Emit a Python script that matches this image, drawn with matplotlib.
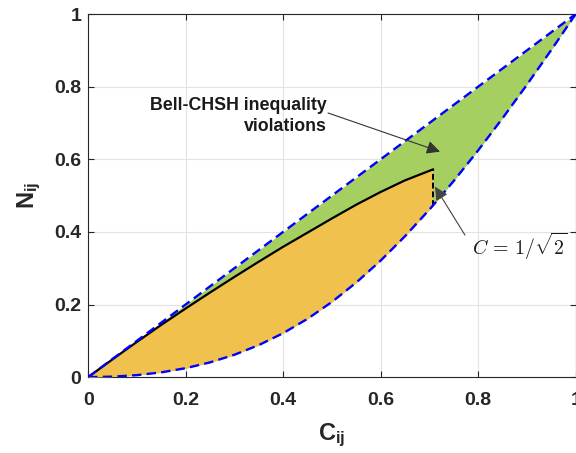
import matplotlib
matplotlib.use("Agg")
import matplotlib.pyplot as plt
import numpy as np

plt.rcParams['font.family'] = ['Liberation Sans', 'DejaVu Sans']
plt.rcParams['mathtext.fontset'] = 'custom'
plt.rcParams['mathtext.rm'] = 'Liberation Sans'
plt.rcParams['mathtext.bf'] = 'Liberation Sans:bold'
plt.rcParams['mathtext.it'] = 'Liberation Sans:italic'

# Upper bound N = C (straight dashed line)
upper_c = [0.0, 1.0]
upper_n = [0.0, 1.0]

# Lower dashed bound
lower_c = [0.0, 0.05, 0.10, 0.15, 0.20, 0.25, 0.30, 0.35, 0.40, 0.45, 0.50,
           0.55, 0.60, 0.65, 0.70, 0.7071, 0.75, 0.80, 0.85, 0.90, 0.95, 1.0]
lower_n = [0.0, 0.0013, 0.0055, 0.0131, 0.0246, 0.0406, 0.0616, 0.0882, 0.1211,
           0.1606, 0.2071, 0.2606, 0.3211, 0.3882, 0.4616, 0.4725, 0.5406,
           0.6246, 0.7131, 0.8055, 0.9013, 1.0]

# Black solid curve (up to C = 1/sqrt(2))
black_c = [0.0, 0.05, 0.10, 0.15, 0.20, 0.25, 0.30, 0.35, 0.40, 0.45, 0.50,
           0.55, 0.60, 0.65, 0.7071]
black_n = [0.0, 0.049, 0.097, 0.144, 0.189, 0.233, 0.276, 0.318, 0.359, 0.398,
           0.437, 0.475, 0.510, 0.542, 0.572]

ticks = [0, 0.2, 0.4, 0.6, 0.8, 1]
tick_labels = ['0', '0.2', '0.4', '0.6', '0.8', '1']

green = '#A6CF62'
orange = '#F1C14E'
blue = '#0000FF'

fig = plt.figure(figsize=(5.76, 4.53), dpi=100)
ax = fig.add_axes([0.153, 0.1675, 0.8465, 0.8015])

lc = np.array(lower_c)
ln = np.array(lower_n)
# green region between N=C and lower bound
ax.fill_between(lc, ln, np.interp(lc, upper_c, upper_n), color=green, lw=0, zorder=2)
# orange region between black curve and lower bound
bc = np.array(black_c)
ax.fill_between(bc, np.interp(bc, lc, ln), black_n, color=orange, lw=0, zorder=3)

ax.plot(black_c, black_n, color='black', lw=1.6, zorder=5)
ax.plot([black_c[-1], black_c[-1]], [np.interp(black_c[-1], lc, ln), black_n[-1]],
        color='black', lw=1.4, ls=(0, (3, 1.5)), zorder=5)
ax.plot(upper_c, upper_n, color=blue, lw=1.7, ls=(0, (4, 2.2)), zorder=6)
ax.plot(lower_c, lower_n, color=blue, lw=1.7, ls=(0, (4, 2.2)), zorder=6)

ax.set_xlim(0, 1)
ax.set_ylim(0, 1)
ax.set_xticks(ticks)
ax.set_xticklabels(tick_labels)
ax.set_yticks(ticks)
ax.set_yticklabels(tick_labels)
ax.grid(True, color='#E3E3E3', lw=0.8)
ax.set_axisbelow(True)
ax.tick_params(direction='in', top=True, right=True, length=4, width=0.8,
               color='#262626', labelsize=14, labelcolor='#262626')
ax.tick_params(axis='x', pad=11)
ax.tick_params(axis='y', pad=5)
for lab in ax.get_xticklabels() + ax.get_yticklabels():
    lab.set_fontweight('bold')
for s in ax.spines.values():
    s.set_color('#262626')
    s.set_linewidth(0.8)

ax.set_xlabel(r'$\mathbf{C_{ij}}$', fontsize=17, color='#262626', labelpad=9)
ax.set_ylabel(r'$\mathbf{N_{ij}}$', fontsize=17, color='#262626', labelpad=8)

ax.annotate('', xy=(0.7216, 0.621), xytext=(0.492, 0.7275),
            arrowprops=dict(arrowstyle='-|>', color='#333333', lw=0.8, mutation_scale=20,
                            shrinkA=0, shrinkB=0), zorder=8)
ax.text(0.4898, 0.719, 'Bell-CHSH inequality\nviolations', ha='right', va='center',
        fontsize=12.8, fontweight='bold', color='#1a1a1a', linespacing=1.3, zorder=8)

ax.annotate('', xy=(0.7114, 0.5245), xytext=(0.7728, 0.3913),
            arrowprops=dict(arrowstyle='-|>', color='#444444', lw=0.8, mutation_scale=20,
                            shrinkA=0, shrinkB=0), zorder=8)
ax.text(0.7866, 0.336, r'$C\,=\,1/\sqrt{2}$', ha='left', va='baseline',
        fontsize=14.3, math_fontfamily='cm', color='#1a1a1a', zorder=8)

fig.savefig('out.png', dpi=100)
